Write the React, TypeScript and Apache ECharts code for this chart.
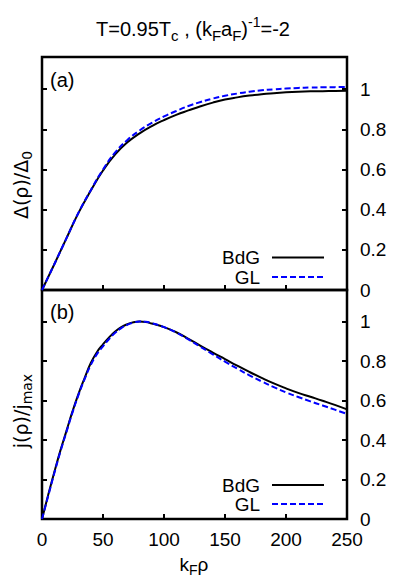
import React, { useEffect, useRef } from 'react';
import * as echarts from 'echarts';

// ---- data ----
const rhoDelta = [0, 10, 20, 30, 40, 50, 60, 70, 80, 90, 100, 110, 120, 130, 140, 150, 160, 170, 180, 190, 200, 210, 220, 230, 240, 250];
const deltaBdG = [0, 0.127, 0.257, 0.385, 0.495, 0.595, 0.675, 0.735, 0.78, 0.816, 0.846, 0.872, 0.894, 0.915, 0.933, 0.948, 0.959, 0.968, 0.975, 0.98, 0.984, 0.987, 0.989, 0.99, 0.991, 0.992];
const deltaGL = [0, 0.127, 0.257, 0.386, 0.497, 0.6, 0.685, 0.747, 0.794, 0.832, 0.864, 0.891, 0.916, 0.936, 0.953, 0.967, 0.978, 0.987, 0.994, 0.999, 1.003, 1.006, 1.008, 1.009, 1.01, 1.011];

const rhoJ = [0, 5, 10, 15, 20, 25, 30, 35, 40, 45, 50, 55, 60, 65, 70, 75, 80, 85, 90, 100, 110, 120, 130, 140, 150, 160, 170, 180, 190, 200, 210, 220, 230, 240, 250];
const jBdG = [0, 0.12, 0.235, 0.345, 0.445, 0.545, 0.635, 0.715, 0.79, 0.845, 0.885, 0.92, 0.95, 0.972, 0.987, 0.997, 1.0, 0.998, 0.99, 0.972, 0.946, 0.913, 0.877, 0.843, 0.81, 0.777, 0.745, 0.715, 0.687, 0.662, 0.639, 0.619, 0.599, 0.578, 0.555];
const jGL = [0, 0.115, 0.23, 0.34, 0.44, 0.54, 0.63, 0.71, 0.78, 0.835, 0.875, 0.912, 0.943, 0.967, 0.984, 0.995, 1.0, 0.999, 0.992, 0.972, 0.945, 0.91, 0.872, 0.834, 0.797, 0.762, 0.728, 0.697, 0.668, 0.641, 0.618, 0.596, 0.575, 0.554, 0.532];

const xTicks = [0, 50, 100, 150, 200, 250];
const yTicks = [0, 0.2, 0.4, 0.6, 0.8, 1];
const seriesNames = ['BdG', 'GL'];

const FONT = '"Liberation Sans", Arial, Helvetica, sans-serif';
const FONT_Y = '"DejaVu Sans", "Liberation Sans", sans-serif';
const BLUE = '#0000ff';

const pairs = (xs: number[], ys: number[]) => xs.map((x, i) => [x, ys[i]]);

export default function App() {
  const ref = useRef<HTMLDivElement>(null);
  useEffect(() => {
    document.body.style.margin = '0';
    if (!ref.current) return;
    const chart = echarts.init(ref.current, null, { renderer: 'svg' });

    const grids = [
      { left: 42, top: 57, width: 305, height: 233 },
      { left: 42, top: 290, width: 305, height: 229 },
    ].map((g) => ({ ...g, show: true, borderColor: '#000', borderWidth: 2.5, backgroundColor: 'transparent' }));

    const tick = { show: true, inside: true, length: 5, lineStyle: { color: '#000', width: 2 } };

    const xAxis = [0, 1].map((gi) => ({
      type: 'value',
      gridIndex: gi,
      min: 0,
      max: 250,
      interval: 50,
      axisLine: { show: false },
      splitLine: { show: false },
      axisTick: { ...tick, customValues: xTicks },
      axisLabel: gi === 1
        ? { show: true, customValues: xTicks, fontSize: 19, fontFamily: FONT, color: '#000', margin: 11 }
        : { show: false },
    }));

    const yAxis: any[] = [];
    [0, 1].forEach((gi) => {
      ['left', 'right'].forEach((pos) => {
        yAxis.push({
          type: 'value',
          gridIndex: gi,
          position: pos,
          min: 0,
          max: 1.16,
          interval: 0.2,
          axisLine: { show: false },
          splitLine: { show: false },
          axisTick: { ...tick, customValues: yTicks },
          axisLabel: pos === 'right'
            ? { show: true, customValues: yTicks, fontSize: 19, fontFamily: FONT, color: '#000', margin: 13, align: 'left' }
            : { show: false },
        });
      });
    });

    const lineBdG = { color: '#000', width: 2, type: 'solid' };
    const lineGL = { color: BLUE, width: 2, type: [6, 3] };

    const series = [
      { name: seriesNames[0], type: 'line', xAxisIndex: 0, yAxisIndex: 0, data: pairs(rhoDelta, deltaBdG), smooth: true, showSymbol: false, lineStyle: lineBdG, z: 2 },
      { name: seriesNames[1], type: 'line', xAxisIndex: 0, yAxisIndex: 0, data: pairs(rhoDelta, deltaGL), smooth: true, showSymbol: false, lineStyle: lineGL, z: 3 },
      { name: seriesNames[0], type: 'line', xAxisIndex: 1, yAxisIndex: 2, data: pairs(rhoJ, jBdG), smooth: true, showSymbol: false, lineStyle: lineBdG, z: 2 },
      { name: seriesNames[1], type: 'line', xAxisIndex: 1, yAxisIndex: 2, data: pairs(rhoJ, jGL), smooth: true, showSymbol: false, lineStyle: lineGL, z: 3 },
    ];

    const mainRich = (size: number, lh: number, fam: string) => ({ fontSize: size, lineHeight: lh, fontFamily: fam, fill: '#000', verticalAlign: 'middle' });
    const subRich = (size: number, lh: number, fam: string) => ({ fontSize: size, lineHeight: lh, fontFamily: fam, fill: '#000', verticalAlign: 'bottom' });
    const supRich = (size: number, lh: number, fam: string) => ({ fontSize: size, lineHeight: lh, fontFamily: fam, fill: '#000', verticalAlign: 'top' });

    const legend = (yBdG: number, yGL: number) => [
      { type: 'text', style: { text: seriesNames[0], x: 260, y: yBdG, align: 'right', verticalAlign: 'middle', fontSize: 19, fontFamily: FONT, fill: '#000' } },
      { type: 'line', shape: { x1: 272, y1: yBdG, x2: 324, y2: yBdG }, style: { stroke: '#000', lineWidth: 2 } },
      { type: 'text', style: { text: seriesNames[1], x: 260, y: yGL, align: 'right', verticalAlign: 'middle', fontSize: 19, fontFamily: FONT, fill: '#000' } },
      { type: 'line', shape: { x1: 272, y1: yGL, x2: 324, y2: yGL }, style: { stroke: BLUE, lineWidth: 2, lineDash: [6, 3] } },
    ];

    const graphic: any[] = [
      {
        type: 'text',
        style: {
          text: '{m|T=0.95T}{s|c}{m| , (k}{s|F}{m|a}{s|F}{m|)}{p|-1}{m|=-2}',
          x: 193, y: 29, align: 'center', verticalAlign: 'middle',
          fontSize: 20, fontFamily: FONT, fill: '#000',
          rich: { m: mainRich(20, 28, FONT), s: subRich(15, 15, FONT), p: supRich(14, 18, FONT) },
        },
      },
      { type: 'text', style: { text: '(a)', x: 50, y: 80, align: 'left', verticalAlign: 'middle', fontSize: 20, fontFamily: FONT, fill: '#000' } },
      { type: 'text', style: { text: '(b)', x: 50, y: 312, align: 'left', verticalAlign: 'middle', fontSize: 20, fontFamily: FONT, fill: '#000' } },
      {
        type: 'text', x: 21, y: 185, rotation: Math.PI / 2,
        style: {
          text: '{m|Δ(ρ)/Δ}{s|0}', x: 0, y: 0, align: 'center', verticalAlign: 'middle',
          fontSize: 19, fontFamily: FONT_Y, fill: '#000',
          rich: { m: mainRich(19, 26, FONT_Y), s: subRich(14, 14, FONT_Y) },
        },
      },
      {
        type: 'text', x: 21, y: 411, rotation: Math.PI / 2,
        style: {
          text: '{m|j(ρ)/j}{s|max}', x: 0, y: 0, align: 'center', verticalAlign: 'middle',
          fontSize: 19, fontFamily: FONT_Y, fill: '#000',
          rich: { m: mainRich(19, 26, FONT_Y), s: subRich(14, 14, FONT_Y) },
        },
      },
      {
        type: 'text',
        style: {
          text: '{m|k}{s|F}{m|ρ}', x: 194, y: 564, align: 'center', verticalAlign: 'middle',
          fontSize: 19, fontFamily: FONT, fill: '#000',
          rich: { m: mainRich(19, 26, FONT), s: subRich(14, 14, FONT) },
        },
      },
      ...legend(257.5, 277),
      ...legend(485, 504),
    ];

    chart.setOption({
      animation: false,
      backgroundColor: '#fff',
      grid: grids,
      xAxis,
      yAxis,
      series,
      graphic,
    } as any);

    return () => chart.dispose();
  }, []);

  return <div ref={ref} style={{ width: 409, height: 584 }} />;
}
